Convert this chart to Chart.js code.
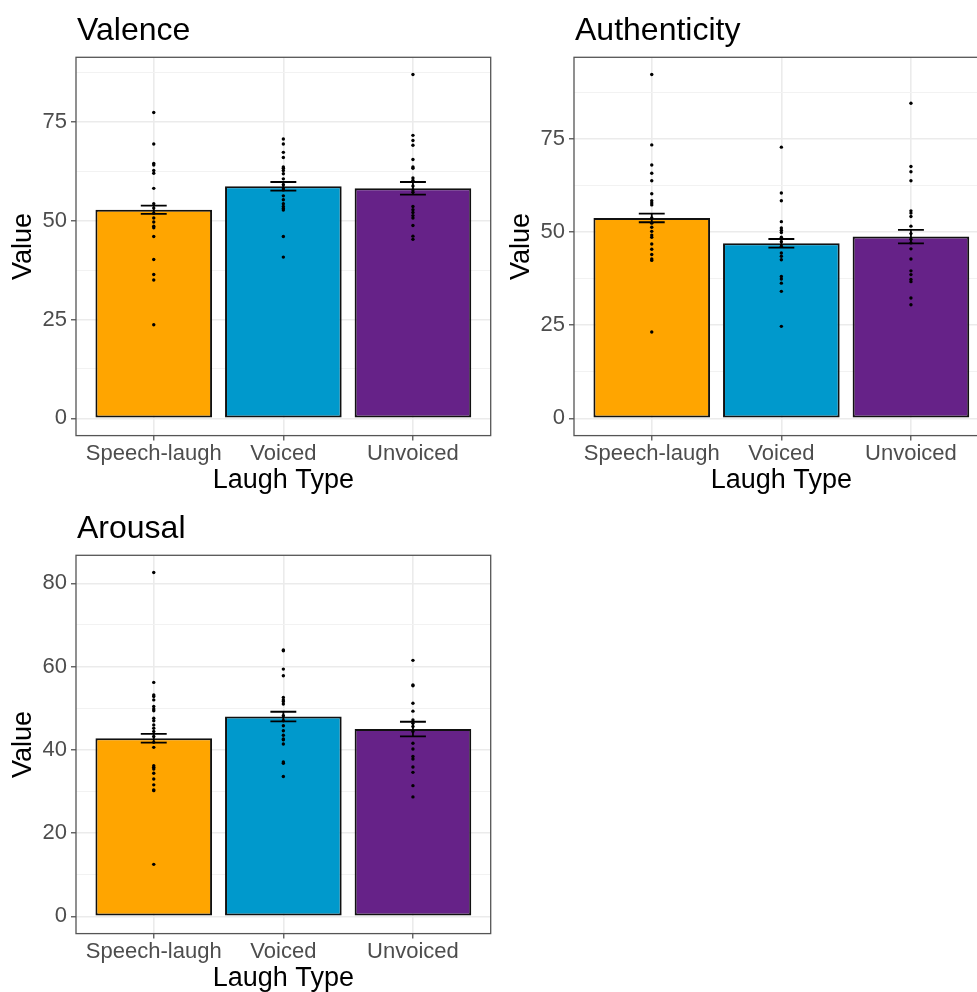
<!DOCTYPE html>
<html><head><meta charset="utf-8">
<script src="https://cdn.jsdelivr.net/npm/chart.js@4.4.1/dist/chart.umd.min.js"></script>
<style>
html,body{margin:0;padding:0;background:#fff;width:977px;height:992px;overflow:hidden;position:relative;}
canvas{position:absolute;}
</style></head><body>
<canvas id="valence" width="500" height="500" style="left:0px;top:0px"></canvas>
<canvas id="authenticity" width="500" height="500" style="left:498px;top:0px"></canvas>
<canvas id="arousal" width="500" height="500" style="left:0px;top:498px"></canvas>
<script>
// ---------- data ----------
const categories = ['Speech-laugh', 'Voiced', 'Unvoiced'];
const barColors = ['#FFA500', '#0099CC', '#662288'];

const valenceMeans = [52.8, 58.7, 58.2];
const valenceSE = [1.05, 1.1, 1.6];
const valenceSpeech = [77.4, 69.4, 64.5, 64.1, 62.7, 62.0, 58.2, 54.3, 53.2, 51.9, 50.7, 49.7, 48.6, 48.2, 46.0, 40.2, 36.4, 35.0, 23.7];
const valenceVoiced = [70.7, 69.4, 67.3, 66.0, 63.6, 63.3, 62.7, 61.9, 60.6, 59.1, 58.3, 57.8, 56.3, 55.3, 54.3, 53.6, 53.1, 52.7, 46.0, 40.8];
const valenceUnvoiced = [87.0, 71.6, 70.3, 69.1, 65.5, 63.6, 63.3, 60.8, 60.2, 58.8, 57.8, 57.2, 53.6, 52.8, 52.1, 51.3, 50.7, 48.8, 46.1, 45.3];
const valenceTicks = [0, 25, 50, 75];

const authMeans = [53.8, 47.0, 48.8];
const authSE = [1.15, 1.15, 1.8];
const authSpeech = [92.3, 73.4, 68.0, 65.8, 63.8, 60.3, 58.4, 57.8, 57.3, 53.8, 52.4, 51.3, 50.2, 49.2, 48.6, 46.8, 45.4, 44.0, 42.8, 42.4, 23.2];
const authVoiced = [72.8, 60.5, 58.4, 52.8, 51.1, 50.5, 49.9, 48.6, 47.4, 46.2, 44.4, 43.5, 42.6, 38.1, 37.4, 36.3, 34.1, 24.7];
const authUnvoiced = [84.6, 67.6, 66.2, 63.8, 55.7, 55.1, 54.2, 51.6, 49.6, 48.1, 47.1, 45.5, 42.8, 39.6, 38.6, 37.3, 36.7, 32.3, 30.5];
const authTicks = [0, 25, 50, 75];

const arousalMeans = [42.8, 48.0, 45.0];
const arousalSE = [1.05, 1.15, 1.75];
const arousalSpeech = [82.6, 56.2, 53.2, 52.8, 52.0, 50.4, 49.8, 49.4, 47.6, 47.0, 46.0, 45.2, 44.4, 43.2, 41.8, 40.6, 36.2, 35.8, 35.4, 34.4, 33.0, 31.6, 30.4, 30.2, 12.5];
const arousalVoiced = [64.0, 63.8, 59.4, 57.8, 52.6, 52.0, 51.6, 51.0, 48.2, 47.0, 45.8, 44.6, 43.5, 42.6, 42.4, 41.4, 37.1, 36.8, 33.6];
const arousalUnvoiced = [61.5, 55.6, 55.4, 51.2, 49.3, 47.2, 46.4, 45.6, 44.4, 41.6, 40.2, 38.4, 37.8, 35.9, 34.6, 31.4, 28.7];
const arousalTicks = [0, 20, 40, 60, 80];

// ---------- rendering ----------
const FAMILY = '"Liberation Sans", Arial, Helvetica, sans-serif';
Chart.defaults.font.family = FAMILY;

const panelPlugin = {
  id: 'panelDeco',
  afterDatasetDraw(chart, args, opts) {
    if (args.meta.type !== 'bar') return;
    const ctx = chart.ctx, xs = chart.scales.x, ys = chart.scales.y;
    ctx.save();
    ctx.strokeStyle = '#000';
    ctx.lineWidth = 1.8;
    opts.means.forEach((m, i) => {
      const x = xs.getPixelForValue(i + 1);
      const hw = xs.getPixelForValue(i + 1.1) - x;
      const yt = ys.getPixelForValue(m + opts.se[i]);
      const yb = ys.getPixelForValue(m - opts.se[i]);
      ctx.beginPath();
      ctx.moveTo(x - hw, yt); ctx.lineTo(x + hw, yt);
      ctx.moveTo(x, yt); ctx.lineTo(x, yb);
      ctx.moveTo(x - hw, yb); ctx.lineTo(x + hw, yb);
      ctx.stroke();
    });
    ctx.restore();
  },
  afterDraw(chart, args, opts) {
    const ctx = chart.ctx, a = chart.chartArea;
    ctx.save();
    ctx.strokeStyle = '#555';
    ctx.lineWidth = 1.3;
    ctx.strokeRect(a.left, a.top, a.right - a.left, a.bottom - a.top);
    ctx.fillStyle = '#000';
    ctx.font = '32px ' + FAMILY;
    ctx.textBaseline = 'alphabetic';
    ctx.textAlign = 'left';
    ctx.fillText(opts.title, 77, 40);
    ctx.restore();
  }
};

function makeChart(id, title, means, se, groups, ticks) {
  const maxVal = Math.max(...groups.flat(), ...means.map((m, i) => m + se[i]));
  const ymin = -0.05 * maxVal, ymax = 1.05 * maxVal;
  const step = ticks[1] - ticks[0];
  const minor = ticks.map(t => t + step / 2).filter(v => v < ymax);
  const allTicks = [...ticks, ...minor].sort((a, b) => a - b);
  const isMajor = v => ticks.includes(v);

  new Chart(document.getElementById(id), {
    type: 'bar',
    data: {
      datasets: [
        {
          type: 'scatter',
          order: 0,
          data: groups.flatMap((arr, i) => arr.map(v => ({ x: i + 1, y: v }))),
          pointRadius: 1.7,
          pointBackgroundColor: '#000',
          pointBorderWidth: 0,
          pointHoverRadius: 1.7
        },
        {
          type: 'bar',
          order: 1,
          data: means.map((m, i) => ({ x: i + 1, y: m })),
          backgroundColor: barColors,
          borderColor: '#111',
          borderWidth: 2,
          borderSkipped: false,
          categoryPercentage: 1,
          barPercentage: 0.9
        }
      ]
    },
    options: {
      responsive: false,
      animation: false,
      events: [],
      layout: { padding: { left: 0, top: 57.3, right: 9.3, bottom: 3.2 } },
      plugins: {
        legend: { display: false },
        tooltip: { enabled: false },
        panelDeco: { title: title, means: means, se: se }
      },
      scales: {
        x: {
          type: 'linear',
          min: 0.4, max: 3.6,
          offset: false,
          afterBuildTicks: s => { s.ticks = categories.map((c, i) => ({ value: i + 1 })); },
          afterFit: s => { s.height = 61.2; },
          ticks: {
            callback: v => categories[v - 1],
            font: { size: 22 }, color: '#4D4D4D', padding: 0,
            maxRotation: 0, minRotation: 0, autoSkip: false
          },
          grid: { offset: false, color: '#EBEBEB', lineWidth: 1.6, tickLength: 5, tickColor: '#333', tickWidth: 1.1 },
          border: { display: false },
          title: { display: true, text: 'Laugh Type', font: { size: 27 }, color: '#000', padding: { top: 0, bottom: 0 } }
        },
        y: {
          type: 'linear',
          min: ymin, max: ymax,
          afterBuildTicks: s => { s.ticks = allTicks.map(v => ({ value: v })); },
          afterFit: s => { s.width = 76; },
          ticks: {
            callback: v => isMajor(v) ? String(v) : '',
            font: { size: 22 }, color: '#4D4D4D', padding: 4, autoSkip: false
          },
          grid: {
            color: c => (c.tick && isMajor(c.tick.value)) ? '#EBEBEB' : '#F2F2F2',
            lineWidth: c => (c.tick && isMajor(c.tick.value)) ? 1.6 : 1,
            tickLength: 5,
            tickColor: c => (c.tick && isMajor(c.tick.value)) ? '#333' : 'rgba(0,0,0,0)',
            tickWidth: 1.1
          },
          border: { display: false },
          title: { display: true, text: 'Value', font: { size: 27 }, color: '#000', padding: { top: 7.4, bottom: 0 } }
        }
      }
    },
    plugins: [panelPlugin]
  });
}

makeChart('valence', 'Valence', valenceMeans, valenceSE, [valenceSpeech, valenceVoiced, valenceUnvoiced], valenceTicks);
makeChart('authenticity', 'Authenticity', authMeans, authSE, [authSpeech, authVoiced, authUnvoiced], authTicks);
makeChart('arousal', 'Arousal', arousalMeans, arousalSE, [arousalSpeech, arousalVoiced, arousalUnvoiced], arousalTicks);
</script>
</body></html>
